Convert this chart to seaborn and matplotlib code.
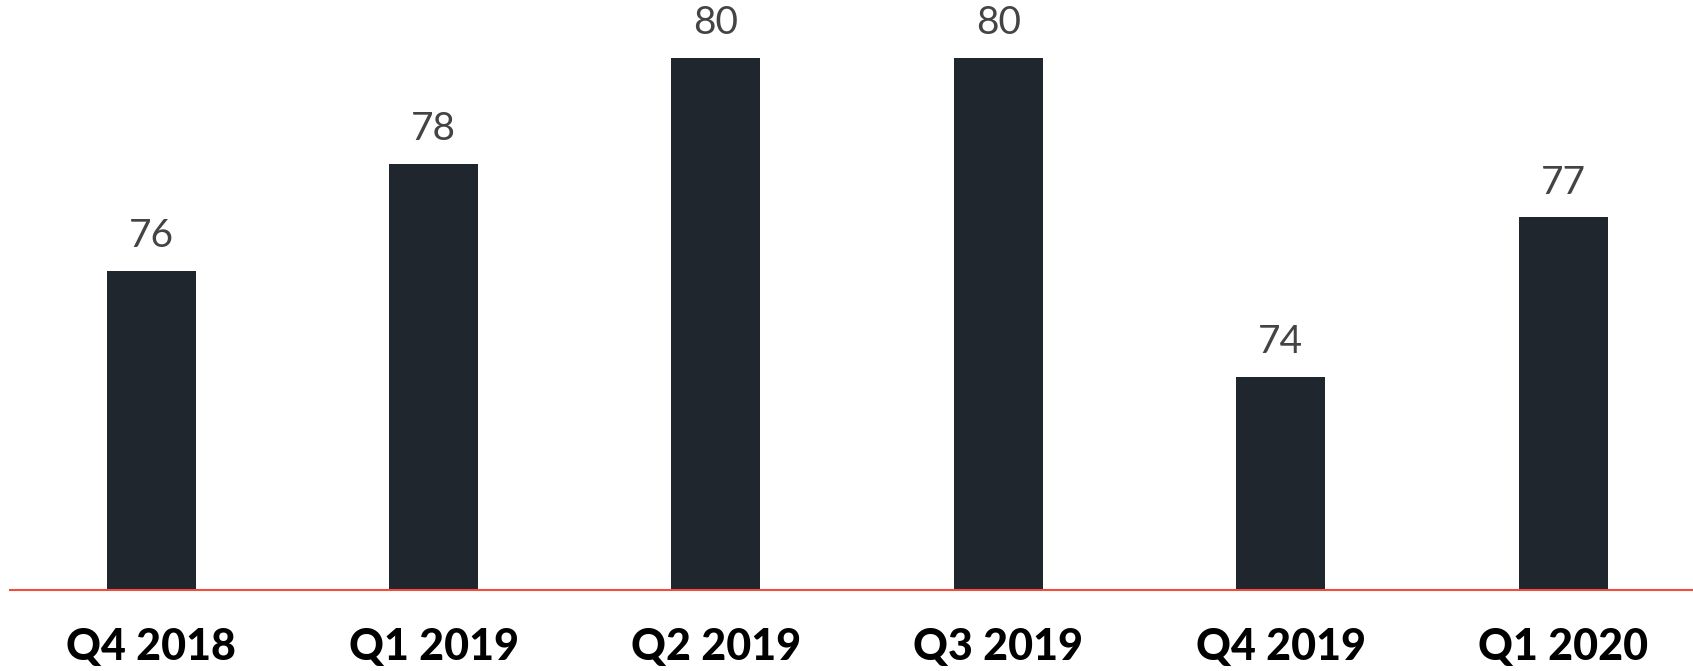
import matplotlib
matplotlib.use("Agg")
import matplotlib.pyplot as plt
import seaborn as sns
import pandas as pd

quarters = ["Q4 2018", "Q1 2019", "Q2 2019", "Q3 2019", "Q4 2019", "Q1 2020"]
values = [76, 78, 80, 80, 74, 77]

sns.set_style("white")
plt.rcParams['font.family'] = ['Lato', 'DejaVu Sans']

df = pd.DataFrame({"quarter": quarters, "value": values})

fig = plt.figure(figsize=(16.93, 6.71), dpi=100)
W, H = 1693, 671
ax = fig.add_axes([10 / W, 81 / H, 1683 / W, 590 / H])

sns.barplot(data=df, x="quarter", y="value", color="#20262d", width=0.315,
            saturation=1, ax=ax, edgecolor="none")

ax.set_ylim(70, 70 + 590 / 53.25)
ax.set_xlim(-0.5, 5.46)

for p, v in zip(ax.patches, values):
    ax.annotate(f"{v}", (p.get_x() + p.get_width() / 2, p.get_height()),
                xytext=(0, 12), textcoords="offset points", ha="center", va="bottom",
                fontsize=28, color="#444444")

for s in ["top", "right", "left"]:
    ax.spines[s].set_visible(False)
ax.spines["bottom"].set_color("#f04e3e")
ax.spines["bottom"].set_linewidth(1.5)
ax.set_yticks([])
ax.set_xlabel("")
ax.set_ylabel("")
ax.tick_params(axis="x", length=0, pad=27)
for lbl in ax.get_xticklabels():
    lbl.set_fontsize(31)
    lbl.set_fontweight("black")
    lbl.set_color("#000000")

fig.savefig("out.png", dpi=100)
